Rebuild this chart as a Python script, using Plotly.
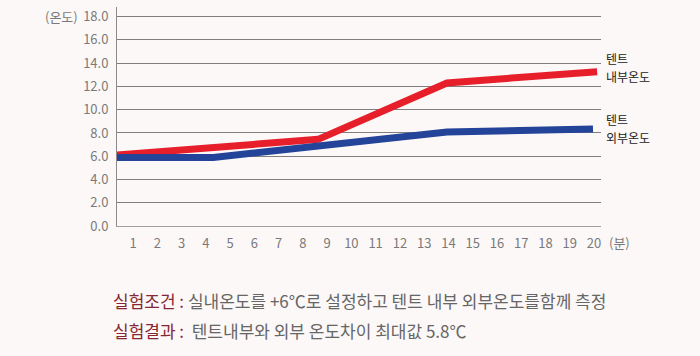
import plotly.graph_objects as go

# Data (x in minutes, y in °C)
inside_x = [0.34, 8.63, 13.94, 20.13]
inside_y = [6.1, 7.45, 12.3, 13.27]
outside_x = [0.34, 4.31, 13.94, 19.96]
outside_y = [5.9, 5.9, 8.08, 8.34]

x_ticks = list(range(1, 21))
y_ticks = [0, 2, 4, 6, 8, 10, 12, 14, 16, 18]

series_names = [["텐트", "내부온도"], ["텐트", "외부온도"]]
label_y = [13.6, 8.35]
y_unit = "(온도)"
x_unit = "(분)"
note1_label = "실험조건 :"
note1_text = "실내온도를 +6℃로 설정하고 텐트 내부 외부온도를함께 측정"
note2_label = "실험결과 :"
note2_text = " 텐트내부와 외부 온도차이 최대값 5.8℃"

FONT = "Noto Sans CJK KR"
RED = "#e61f2b"
BLUE = "#24449a"
BG = "#fcf8f7"
GRAY = "#7a7a7a"
MAROON = "#862633"

fig = go.Figure()
fig.add_trace(go.Scatter(x=inside_x, y=inside_y, mode="lines",
                         line=dict(color=RED, width=7), hoverinfo="skip"))
fig.add_trace(go.Scatter(x=outside_x, y=outside_y, mode="lines",
                         line=dict(color=BLUE, width=7), hoverinfo="skip"))

fig.update_layout(
    width=700, height=356,
    margin=dict(l=117, r=99, t=7, b=130, autoexpand=False),
    paper_bgcolor=BG, plot_bgcolor=BG,
    showlegend=False,
    font=dict(family=FONT, size=13, color=GRAY),
    xaxis=dict(range=[0.34, 20.29], tickvals=x_ticks, showgrid=False,
               zeroline=False, showline=True, linecolor="#a0a0a0", linewidth=1,
               ticks="", ticklabelstandoff=5, automargin=False,
               tickfont=dict(family=FONT, size=13, color=GRAY)),
    yaxis=dict(range=[0, 18.83], tickvals=y_ticks, tickformat=".1f",
               showgrid=True, gridcolor="#7f7f7f", gridwidth=1,
               zeroline=False, showline=True, linecolor="#8a8a8a", linewidth=1,
               ticks="", ticklabelstandoff=5, automargin=False,
               tickfont=dict(family=FONT, size=13, color=GRAY)),
)

common = dict(showarrow=False)
ann = [
    dict(text=y_unit, xref="paper", yref="y", x=-0.077, y=18, xanchor="right",
         yanchor="middle", font=dict(size=13, color=GRAY), **common),
    dict(text=x_unit, xref="paper", yref="paper", x=1.012, y=-0.075, xanchor="left",
         yanchor="middle", font=dict(size=13, color=GRAY), **common),
    dict(text=f"<span style='color:{MAROON}'>{note1_label}</span> {note1_text}",
         xref="paper", yref="paper", x=-0.012, y=-0.34, xanchor="left",
         yanchor="middle", align="left", font=dict(size=17, color="#666666"), **common),
    dict(text=f"<span style='color:{MAROON}'>{note2_label}</span> {note2_text}",
         xref="paper", yref="paper", x=-0.012, y=-0.477, xanchor="left",
         yanchor="middle", align="left", font=dict(size=17, color="#666666"), **common),
]
for lines, yv in zip(series_names, label_y):
    for i, line in enumerate(lines):
        ann.append(dict(text=line, xref="paper", yref="y", x=1.008, y=yv,
                        yshift=8.9 - 17.8 * i, xanchor="left", yanchor="middle",
                        align="left", borderpad=0,
                        font=dict(size=12, color="#222222"), **common))
fig.update_layout(annotations=ann)

fig.write_html(
    "out.html",
    config={"displayModeBar": False},
    post_script="document.body.style.margin='0';document.body.style.overflow='hidden';",
)
